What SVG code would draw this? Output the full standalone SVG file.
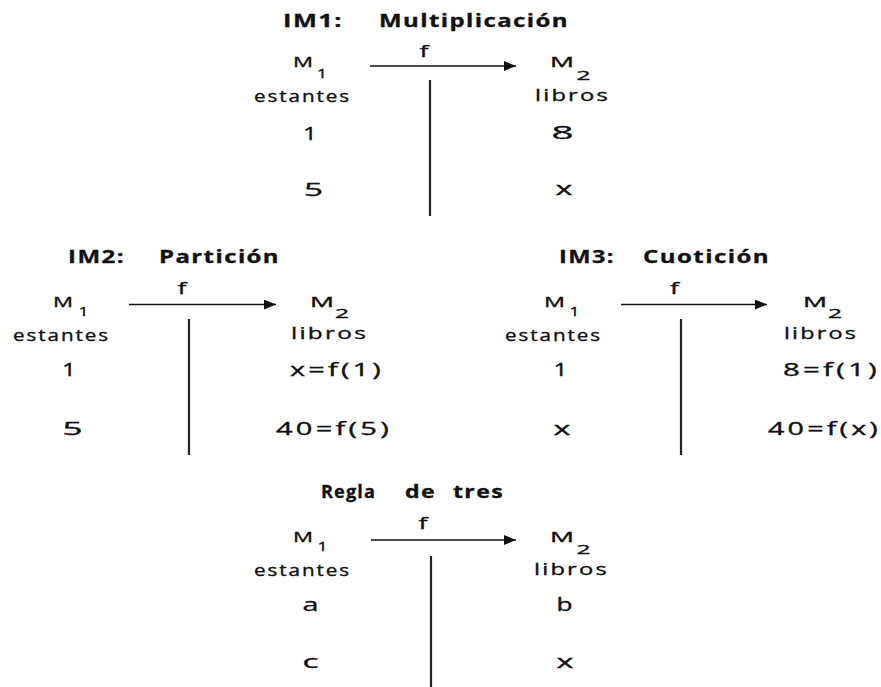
<svg xmlns="http://www.w3.org/2000/svg" width="881" height="687" viewBox="0 0 881 687">
<style>
text{font-family:"Open Sans","DejaVu Sans","Liberation Sans",sans-serif;fill:#111;stroke:#111;stroke-width:0.35}
.t{font-weight:bold;font-size:17px;stroke-width:0.3;letter-spacing:1px}
.m{font-size:14px}
.s{font-size:12px;text-anchor:middle}
.w{font-size:16px;letter-spacing:1.5px}
.v{font-size:18px}
.e{letter-spacing:2px}
.f{font-size:17px;text-anchor:middle}
.c{text-anchor:middle}
.ar{stroke:#111;stroke-width:1.5;fill:none}
.vl{stroke:#222;stroke-width:2.2;fill:none}
</style>
<defs>
<marker id="ah" markerWidth="12" markerHeight="10" refX="12" refY="5" orient="auto" markerUnits="userSpaceOnUse">
<path d="M0,0 L12,5 L0,10 Z" fill="#111"/>
</marker>
</defs>
<rect width="881" height="687" fill="#fff"/>
<g id="connectors">
<line class="ar" x1="370" y1="66" x2="516" y2="66" marker-end="url(#ah)"/>
<line class="vl" x1="430" y1="80" x2="430" y2="216"/>
<line class="ar" x1="129" y1="304.5" x2="276" y2="304.5" marker-end="url(#ah)"/>
<line class="vl" x1="189" y1="319" x2="189" y2="455"/>
<line class="ar" x1="621" y1="304.5" x2="767" y2="304.5" marker-end="url(#ah)"/>
<line class="vl" x1="681" y1="319" x2="681" y2="455"/>
<line class="ar" x1="371" y1="540" x2="516" y2="540" marker-end="url(#ah)"/>
<line class="vl" x1="431" y1="556" x2="431" y2="687"/>
</g>
<g id="im1">
<text class="t" x="283" y="27" textLength="60" lengthAdjust="spacingAndGlyphs">IM1:</text>
<text class="t" x="379" y="27" textLength="190" lengthAdjust="spacingAndGlyphs">Multiplicación</text>
<text class="f" x="424" y="57" textLength="9" lengthAdjust="spacingAndGlyphs">f</text>
<text class="m" x="293" y="67" textLength="20" lengthAdjust="spacingAndGlyphs">M</text>
<text class="s" x="322" y="78" textLength="10" lengthAdjust="spacingAndGlyphs">1</text>
<text class="w" x="254" y="102" textLength="97" lengthAdjust="spacingAndGlyphs">estantes</text>
<text class="v c" x="310" y="140" textLength="14" lengthAdjust="spacingAndGlyphs">1</text>
<text class="v c" x="313.5" y="196" textLength="19" lengthAdjust="spacingAndGlyphs">5</text>
<text class="m" x="550" y="67" textLength="24" lengthAdjust="spacingAndGlyphs">M</text>
<text class="s" x="583.5" y="80" textLength="14" lengthAdjust="spacingAndGlyphs">2</text>
<text class="w" x="535" y="101" textLength="75" lengthAdjust="spacingAndGlyphs">libros</text>
<text class="v c" x="562.5" y="139" textLength="22" lengthAdjust="spacingAndGlyphs">8</text>
<text class="v c" x="564" y="195" textLength="17" lengthAdjust="spacingAndGlyphs">x</text>
</g>
<g id="im2">
<text class="t" x="68" y="263" textLength="57" lengthAdjust="spacingAndGlyphs">IM2:</text>
<text class="t" x="159" y="263" textLength="121" lengthAdjust="spacingAndGlyphs">Partición</text>
<text class="f" x="182" y="294" textLength="9" lengthAdjust="spacingAndGlyphs">f</text>
<text class="m" x="53" y="307" textLength="20" lengthAdjust="spacingAndGlyphs">M</text>
<text class="s" x="83.5" y="316" textLength="10" lengthAdjust="spacingAndGlyphs">1</text>
<text class="w" x="13" y="341" textLength="97" lengthAdjust="spacingAndGlyphs">estantes</text>
<text class="v c" x="69" y="376" textLength="14" lengthAdjust="spacingAndGlyphs">1</text>
<text class="v c" x="72.5" y="435" textLength="20" lengthAdjust="spacingAndGlyphs">5</text>
<text class="m" x="310" y="307" textLength="24" lengthAdjust="spacingAndGlyphs">M</text>
<text class="s" x="342" y="318" textLength="14" lengthAdjust="spacingAndGlyphs">2</text>
<text class="w" x="291" y="339" textLength="77" lengthAdjust="spacingAndGlyphs">libros</text>
<text class="v e" x="290" y="376" textLength="94" lengthAdjust="spacingAndGlyphs">x=f(1)</text>
<text class="v e" x="276" y="435" textLength="116" lengthAdjust="spacingAndGlyphs">40=f(5)</text>
</g>
<g id="im3">
<text class="t" x="559" y="263" textLength="56" lengthAdjust="spacingAndGlyphs">IM3:</text>
<text class="t" x="643" y="263" textLength="127" lengthAdjust="spacingAndGlyphs">Cuotición</text>
<text class="f" x="674.5" y="294" textLength="9" lengthAdjust="spacingAndGlyphs">f</text>
<text class="m" x="544" y="307" textLength="21" lengthAdjust="spacingAndGlyphs">M</text>
<text class="s" x="574.5" y="316" textLength="10" lengthAdjust="spacingAndGlyphs">1</text>
<text class="w" x="505" y="341" textLength="97" lengthAdjust="spacingAndGlyphs">estantes</text>
<text class="v c" x="560.5" y="376" textLength="14" lengthAdjust="spacingAndGlyphs">1</text>
<text class="v c" x="562" y="435" textLength="17" lengthAdjust="spacingAndGlyphs">x</text>
<text class="m" x="803" y="307" textLength="24" lengthAdjust="spacingAndGlyphs">M</text>
<text class="s" x="835" y="318" textLength="14" lengthAdjust="spacingAndGlyphs">2</text>
<text class="w" x="784" y="339" textLength="74" lengthAdjust="spacingAndGlyphs">libros</text>
<text class="v e" x="783" y="376" textLength="97" lengthAdjust="spacingAndGlyphs">8=f(1)</text>
<text class="v e" x="768" y="435" textLength="113" lengthAdjust="spacingAndGlyphs">40=f(x)</text>
</g>
<g id="regla">
<text class="t" x="321" y="498" textLength="55" lengthAdjust="spacingAndGlyphs">Regla</text>
<text class="t" x="405" y="498" textLength="31" lengthAdjust="spacingAndGlyphs">de</text>
<text class="t" x="453" y="498" textLength="51" lengthAdjust="spacingAndGlyphs">tres</text>
<text class="f" x="423" y="529" textLength="9" lengthAdjust="spacingAndGlyphs">f</text>
<text class="m" x="293" y="542" textLength="20" lengthAdjust="spacingAndGlyphs">M</text>
<text class="s" x="322.5" y="551" textLength="10" lengthAdjust="spacingAndGlyphs">1</text>
<text class="w" x="254" y="576" textLength="97" lengthAdjust="spacingAndGlyphs">estantes</text>
<text class="v c" x="310.5" y="611" textLength="16" lengthAdjust="spacingAndGlyphs">a</text>
<text class="v c" x="310.5" y="668" textLength="16" lengthAdjust="spacingAndGlyphs">c</text>
<text class="m" x="550" y="542" textLength="24" lengthAdjust="spacingAndGlyphs">M</text>
<text class="s" x="583.5" y="554" textLength="14" lengthAdjust="spacingAndGlyphs">2</text>
<text class="w" x="534" y="575" textLength="75" lengthAdjust="spacingAndGlyphs">libros</text>
<text class="v c" x="564.5" y="611" textLength="16" lengthAdjust="spacingAndGlyphs">b</text>
<text class="v c" x="565" y="668" textLength="17" lengthAdjust="spacingAndGlyphs">x</text>
</g>
</svg>
